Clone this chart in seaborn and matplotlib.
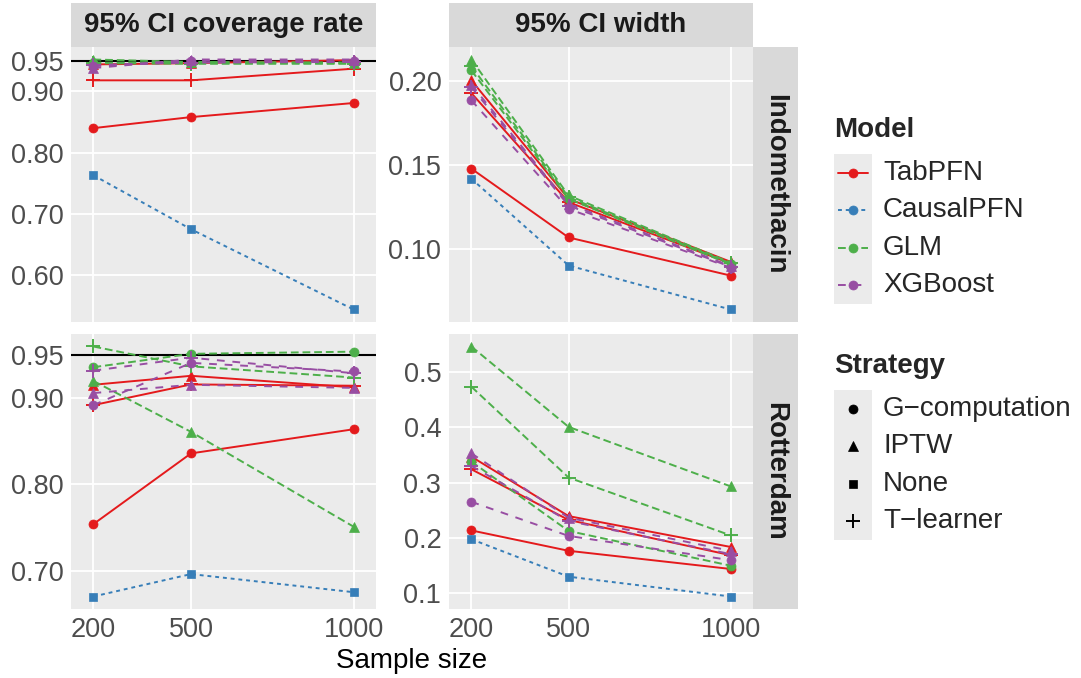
import pandas as pd
import seaborn as sns
import matplotlib.pyplot as plt
from matplotlib.lines import Line2D
from matplotlib.patches import Rectangle

# Estilo tipo ggplot (fondo gris, rejilla blanca)
sns.set_style("darkgrid", {"axes.facecolor": "#EBEBEB", "grid.color": "white"})
plt.rcParams['font.family'] = ['Liberation Sans', 'DejaVu Sans']

# ---- Datos ----
sample_sizes = [200, 500, 1000]
models = ["TabPFN", "CausalPFN", "GLM", "XGBoost"]
strategies = ["G\u2212computation", "IPTW", "None", "T\u2212learner"]
datasets = ["Indomethacin", "Rotterdam"]
metrics = ["95% CI coverage rate", "95% CI width"]
GC, IP, NO, TL = strategies

indo_coverage = {
    ("TabPFN", GC): [0.840, 0.858, 0.881],
    ("TabPFN", IP): [0.944, 0.946, 0.951],
    ("TabPFN", TL): [0.918, 0.918, 0.937],
    ("CausalPFN", NO): [0.763, 0.675, 0.544],
    ("GLM", GC): [0.947, 0.947, 0.946],
    ("GLM", IP): [0.952, 0.948, 0.947],
    ("GLM", TL): [0.946, 0.945, 0.945],
    ("XGBoost", GC): [0.941, 0.950, 0.949],
    ("XGBoost", IP): [0.938, 0.952, 0.952],
    ("XGBoost", TL): [0.943, 0.947, 0.948],
}
indo_width = {
    ("TabPFN", GC): [0.148, 0.107, 0.0843],
    ("TabPFN", IP): [0.2006, 0.130, 0.0925],
    ("TabPFN", TL): [0.193, 0.128, 0.0915],
    ("CausalPFN", NO): [0.142, 0.0903, 0.0641],
    ("GLM", GC): [0.2065, 0.130, 0.091],
    ("GLM", IP): [0.213, 0.132, 0.092],
    ("GLM", TL): [0.209, 0.131, 0.0915],
    ("XGBoost", GC): [0.1887, 0.124, 0.089],
    ("XGBoost", IP): [0.198, 0.127, 0.090],
    ("XGBoost", TL): [0.1965, 0.126, 0.0895],
}
rott_coverage = {
    ("TabPFN", GC): [0.754, 0.836, 0.864],
    ("TabPFN", IP): [0.9156, 0.926, 0.9126],
    ("TabPFN", TL): [0.892, 0.916, 0.9145],
    ("CausalPFN", NO): [0.670, 0.696, 0.675],
    ("GLM", GC): [0.936, 0.9515, 0.954],
    ("GLM", IP): [0.920, 0.861, 0.751],
    ("GLM", TL): [0.960, 0.937, 0.924],
    ("XGBoost", GC): [0.892, 0.941, 0.931],
    ("XGBoost", IP): [0.906, 0.9156, 0.912],
    ("XGBoost", TL): [0.932, 0.947, 0.929],
}
rott_width = {
    ("TabPFN", GC): [0.213, 0.176, 0.143],
    ("TabPFN", IP): [0.347, 0.239, 0.183],
    ("TabPFN", TL): [0.324, 0.232, 0.168],
    ("CausalPFN", NO): [0.197, 0.129, 0.093],
    ("GLM", GC): [0.338, 0.212, 0.149],
    ("GLM", IP): [0.547, 0.401, 0.293],
    ("GLM", TL): [0.474, 0.309, 0.204],
    ("XGBoost", GC): [0.265, 0.203, 0.159],
    ("XGBoost", IP): [0.353, 0.236, 0.176],
    ("XGBoost", TL): [0.330, 0.230, 0.170],
}

yticks = {
    ("Indomethacin", metrics[0]): [0.60, 0.70, 0.80, 0.90, 0.95],
    ("Indomethacin", metrics[1]): [0.10, 0.15, 0.20],
    ("Rotterdam", metrics[0]): [0.70, 0.80, 0.90, 0.95],
    ("Rotterdam", metrics[1]): [0.1, 0.2, 0.3, 0.4, 0.5],
}
ytick_fmt = {
    ("Indomethacin", metrics[0]): "{:.2f}",
    ("Indomethacin", metrics[1]): "{:.2f}",
    ("Rotterdam", metrics[0]): "{:.2f}",
    ("Rotterdam", metrics[1]): "{:.1f}",
}

# Armar dataframe largo
rows = []
for ds, met, table in [("Indomethacin", metrics[0], indo_coverage),
                       ("Indomethacin", metrics[1], indo_width),
                       ("Rotterdam", metrics[0], rott_coverage),
                       ("Rotterdam", metrics[1], rott_width)]:
    for (m, s), vals in table.items():
        for n, v in zip(sample_sizes, vals):
            rows.append({"Dataset": ds, "Metric": met, "Model": m,
                         "Strategy": s, "Sample size": n, "Value": v})
df = pd.DataFrame(rows)

# ---- Estilos ----
model_colors = {"TabPFN": "#E41A1C", "CausalPFN": "#377EB8",
                "GLM": "#4DAF4A", "XGBoost": "#984EA3"}
model_ls = {"TabPFN": "-", "CausalPFN": (0, (2, 2)),
            "GLM": (0, (4, 2)), "XGBoost": (0, (4, 4))}
strat_marker = {GC: ("o", 6.5), IP: ("^", 7.5), NO: ("s", 6), TL: ("+", 10)}
LW = 1.4

W, H = 1081, 678
fig = plt.figure(figsize=(W / 100, H / 100), dpi=100)


def px_rect(x0, y0, x1, y1):
    return [x0 / W, 1 - y1 / H, (x1 - x0) / W, (y1 - y0) / H]


col_x = [(71, 376), (449, 753)]
row_y = [(47, 322), (334, 609)]
TICK_COLOR = "#4D4D4D"

for r, ds in enumerate(datasets):
    for c, met in enumerate(metrics):
        ax = fig.add_axes(px_rect(col_x[c][0], row_y[r][0], col_x[c][1], row_y[r][1]))
        sub = df[(df["Dataset"] == ds) & (df["Metric"] == met)]
        if c == 0:
            ax.axhline(0.95, color="black", lw=1.5, zorder=1.5)
        for (m, s), g in sub.groupby(["Model", "Strategy"], sort=False):
            mk, ms = strat_marker[s]
            sns.lineplot(data=g, x="Sample size", y="Value", ax=ax,
                         color=model_colors[m], linestyle=model_ls[m], lw=LW,
                         marker=mk, markersize=ms, markeredgecolor=model_colors[m],
                         markeredgewidth=1.4 if mk == "+" else 0.5,
                         errorbar=None, legend=False)
        ax.set_xlim(131, 1069)
        ax.set_xlabel("")
        ax.set_ylabel("")
        ax.set_xticks(sample_sizes)
        yt = yticks[(ds, met)]
        ax.set_yticks(yt)
        ax.set_yticklabels([ytick_fmt[(ds, met)].format(v) for v in yt])
        ax.grid(True, color="white", lw=1.3)
        ax.tick_params(axis="y", length=3.5, width=1, color="#333333",
                       labelsize=19.5, labelcolor=TICK_COLOR, pad=2)
        if r == 0:
            ax.tick_params(axis="x", length=0, labelbottom=False)
        else:
            ax.set_xticklabels([str(v) for v in sample_sizes])
            ax.tick_params(axis="x", length=3.5, width=1, color="#333333",
                           labelsize=19.5, labelcolor=TICK_COLOR, pad=2)
        for sp in ax.spines.values():
            sp.set_visible(False)

# Franjas superiores (métricas)
for c, met in enumerate(metrics):
    sax = fig.add_axes(px_rect(col_x[c][0], 3, col_x[c][1], 47))
    sax.set_facecolor("#D9D9D9")
    sax.set_xticks([]); sax.set_yticks([])
    for sp in sax.spines.values():
        sp.set_visible(False)
    sax.text(0.5, 0.5, met, ha="center", va="center", fontsize=20,
             fontweight="bold", color="#1A1A1A", transform=sax.transAxes)

# Franjas derechas (datasets)
for r, ds in enumerate(datasets):
    sax = fig.add_axes(px_rect(753, row_y[r][0], 798, row_y[r][1]))
    sax.set_facecolor("#D9D9D9")
    sax.set_xticks([]); sax.set_yticks([])
    for sp in sax.spines.values():
        sp.set_visible(False)
    sax.text(0.5, 0.5, ds, ha="center", va="center", fontsize=20, rotation=-90,
             fontweight="bold", color="#1A1A1A", transform=sax.transAxes)

fig.text(412 / W, 1 - 661 / H, "Sample size", ha="center", va="center",
         fontsize=20, color="black")

# ---- Leyendas manuales ----
lg = fig.add_axes([0, 0, 1, 1], facecolor="none")
lg.set_xlim(0, W)
lg.set_ylim(H, 0)
lg.axis("off")

lg.text(834, 130, "Model", fontsize=20, fontweight="bold", va="center", ha="left")
lg.add_patch(Rectangle((834, 154), 38, 150, color="#EBEBEB", lw=0))
for i, m in enumerate(models):
    y = 173 + i * 37.3
    lg.add_line(Line2D([838, 868], [y, y], color=model_colors[m], lw=LW,
                       linestyle=model_ls[m]))
    lg.add_line(Line2D([853], [y], marker="o", markersize=6.5,
                       color=model_colors[m], markeredgewidth=0.5))
    lg.text(883, y, m, fontsize=20, va="center", ha="left")

lg.text(834, 366, "Strategy", fontsize=20, fontweight="bold", va="center", ha="left")
lg.add_patch(Rectangle((834, 390), 38, 150, color="#EBEBEB", lw=0))
for i, s in enumerate(strategies):
    y = 409 + i * 37.3
    mk, ms = strat_marker[s]
    lg.add_line(Line2D([853], [y], marker=mk, markersize=ms, color="black",
                       markeredgewidth=1.4 if mk == "+" else 0.5))
    lg.text(883, y, s, fontsize=20, va="center", ha="left")

fig.savefig("out.png", dpi=100)
